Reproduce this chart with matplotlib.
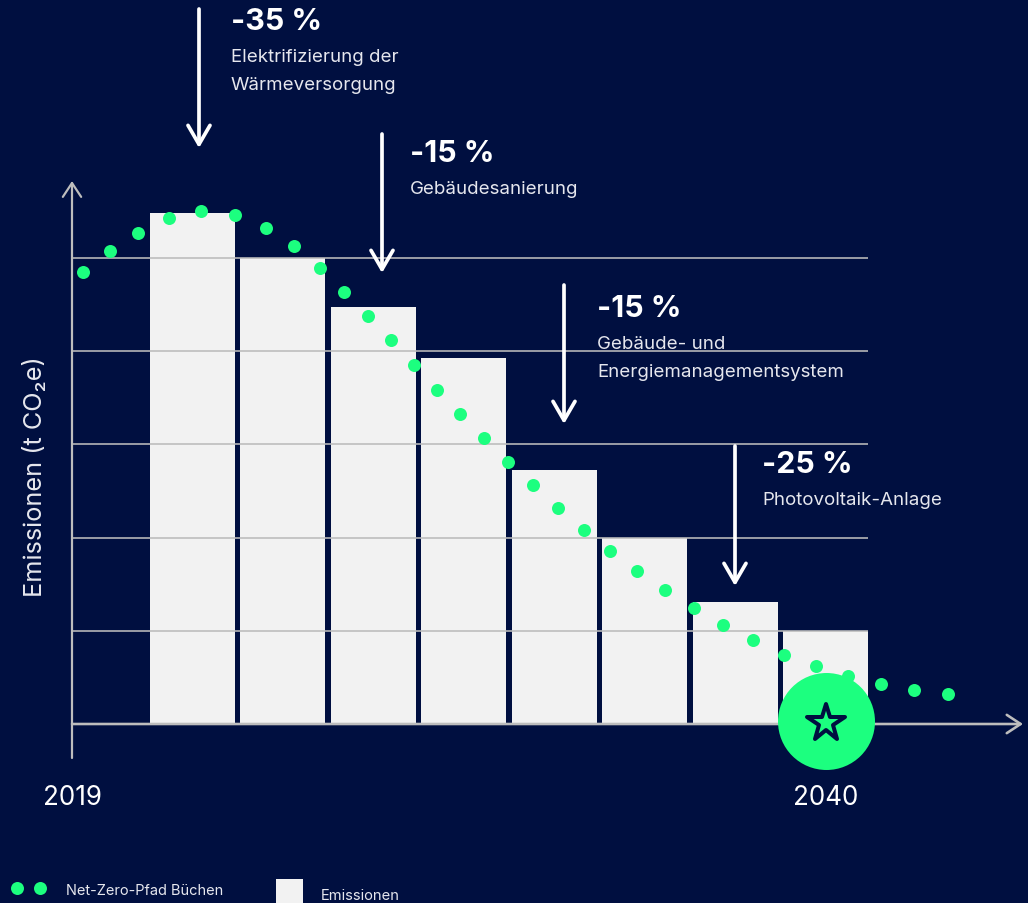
import matplotlib
matplotlib.use("Agg")
import matplotlib.pyplot as plt
from matplotlib.markers import MarkerStyle
from matplotlib.patches import Rectangle
from matplotlib.transforms import Affine2D

plt.rcParams['font.family'] = ['Inter', 'DejaVu Sans']

# Emissions per step, as a percentage of the reference grid line
bar_steps = [0, 1, 2, 3, 4, 5, 6, 7]
bar_values = [109.7, 100.0, 89.5, 78.5, 54.5, 40.0, 26.2, 20.0]

# Net-zero path
path_x = [-1.211, -0.912, -0.603, -0.260, 0.094, 0.470, 0.813, 1.122, 1.410, 1.675, 1.941,
          2.195, 2.449, 2.704, 2.958, 3.223, 3.489, 3.765, 4.042, 4.329, 4.617, 4.915,
          5.225, 5.546, 5.867, 6.198, 6.541, 6.895, 7.249, 7.614, 7.979, 8.355]
path_y = [97.0, 101.5, 105.4, 108.6, 110.1, 109.2, 106.4, 102.6, 97.9, 92.7, 87.6,
          82.4, 77.0, 71.7, 66.5, 61.4, 56.2, 51.3, 46.4, 41.6, 37.1, 32.8,
          28.8, 24.9, 21.2, 18.0, 14.8, 12.4, 10.3, 8.6, 7.3, 6.4]

grid_levels = [20, 40, 60, 80, 100]

reduction_labels = ['-35 %', '-15 %', '-15 %', '-25 %']
measure_labels = ['Elektrifizierung der\nWärmeversorgung', 'Gebäudesanierung',
                  'Gebäude- und\nEnergiemanagementsystem', 'Photovoltaik-Anlage']
year_labels = ['2019', '2040']

NAVY = '#000f40'
GREEN = '#1cff7f'
BAR = '#f2f2f2'
GREY = '#bcbcbc'
WHITE = '#ffffff'
SOFT = '#e6e7ee'

W, H = 1028, 904
fig = plt.figure(figsize=(W / 100, H / 100), dpi=100, facecolor=NAVY)
ax = fig.add_axes([0, 0, 1, 1], facecolor=NAVY)
ax.set_xlim(-2.129, 9.239)
ax.set_ylim(-38.42, 155.57)
ax.axis('off')

# Pixel coordinates measured from the top left corner, for annotations and furniture
px = Affine2D().translate(0, 1).scale(1 / W, -1 / H).translate(0, 1) + fig.transFigure
pt = 72 / 100  # points per pixel

ax.bar(bar_steps, bar_values, width=0.94, color=BAR, linewidth=0, zorder=2)
ax.hlines(grid_levels, -1.336, 7.47, color=GREY, lw=1.6 * pt, zorder=3)

# Axes drawn as open-headed arrows
axis_style = dict(arrowstyle='->,head_length=0.5,head_width=0.33', color='#bdbdbd',
                  shrinkA=0, shrinkB=0, mutation_scale=20)
ax.annotate('', xy=(72, 181), xytext=(72, 758), xycoords=px, textcoords=px,
            arrowprops=dict(lw=2.2 * pt, **axis_style), zorder=3)
ax.annotate('', xy=(1023, 724), xytext=(72, 724), xycoords=px, textcoords=px,
            arrowprops=dict(lw=2.6 * pt, **axis_style), zorder=3)

ax.plot(path_x, path_y, linestyle='none', marker='o', ms=13 * pt, mfc=GREEN, mec='none', zorder=4)

# Target marker in the final year
ax.plot([7.0], [0.7], marker='o', ms=97 * pt, mfc=GREEN, mec='none', zorder=5, linestyle='none')
ax.plot([7.0], [0.2], marker=MarkerStyle('*', joinstyle='round'), ms=39 * pt, mfc=GREEN, mec=NAVY,
        mew=4 * pt, zorder=6, linestyle='none')

# Reduction steps: arrow, percentage and measure
arrow_style = dict(arrowstyle='->,head_length=0.62,head_width=0.36', color=WHITE, lw=3.7 * pt,
                   shrinkA=0, shrinkB=0, mutation_scale=22)
arrow_spans = [(199, 9, 148), (382, 134, 273), (564, 285, 424), (735, 446, 586)]
text_spots = [(231, 21, 57), (410, 153, 189), (597, 308, 344), (762, 464, 500)]
for (ax_x, y0, y1), (tx, ty1, ty2), big, small in zip(arrow_spans, text_spots, reduction_labels, measure_labels):
    ax.annotate('', xy=(ax_x, y1), xytext=(ax_x, y0), xycoords=px, textcoords=px,
                arrowprops=arrow_style, zorder=7)
    ax.text(tx, ty1, big, transform=px, color=WHITE, fontsize=30.3 * pt, fontweight='bold',
            va='center', ha='left', zorder=7)
    for j, line in enumerate(small.split('\n')):
        ax.text(tx, ty2 + j * 27.5, line, transform=px, color=SOFT, fontsize=18.7 * pt,
                va='center', ha='left', zorder=7)

ax.text(72.5, 797, year_labels[0], transform=px, color=WHITE, fontsize=26 * pt, va='center', ha='center')
ax.text(825.5, 797, year_labels[1], transform=px, color=WHITE, fontsize=26 * pt, va='center', ha='center')
ax.text(35, 476, 'Emissionen (t CO₂e)', transform=px, color=SOFT, fontsize=25.3 * pt,
        rotation=90, va='center', ha='center')

# Legend
ax.plot([17, 40], [888, 888], transform=px, linestyle='none', marker='o', ms=13 * pt,
        mfc=GREEN, mec='none', clip_on=False)
ax.text(66, 890, 'Net-Zero-Pfad Büchen', transform=px, color=SOFT, fontsize=14.6 * pt, va='center', ha='left')
ax.add_patch(Rectangle((276, 879), 27, 26, transform=px, facecolor=BAR, edgecolor='none'))
ax.text(321, 895, 'Emissionen', transform=px, color=SOFT, fontsize=14.7 * pt, va='center', ha='left')

fig.savefig('out.png', dpi=100, facecolor=NAVY)
